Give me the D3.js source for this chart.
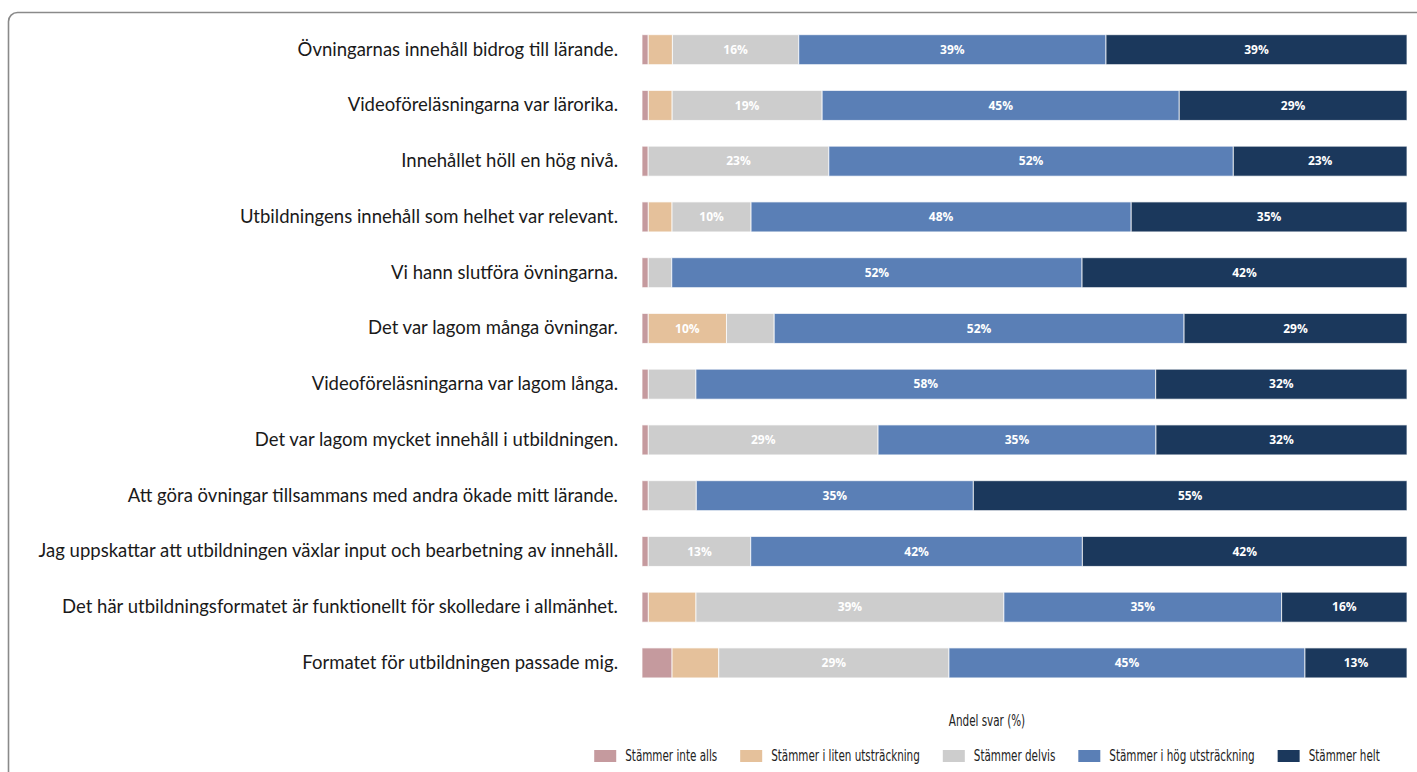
<!DOCTYPE html>
<html>
<head>
<meta charset="utf-8">
<script src="https://cdn.jsdelivr.net/npm/d3@7"></script>
<style>
  html, body { margin: 0; padding: 0; background: #ffffff; }
  svg { display: block; }
</style>
</head>
<body>
<svg id="chart" width="1417" height="772"></svg>
<script>
const categories = [
  "Övningarnas innehåll bidrog till lärande.",
  "Videoföreläsningarna var lärorika.",
  "Innehållet höll en hög nivå.",
  "Utbildningens innehåll som helhet var relevant.",
  "Vi hann slutföra övningarna.",
  "Det var lagom många övningar.",
  "Videoföreläsningarna var lagom långa.",
  "Det var lagom mycket innehåll i utbildningen.",
  "Att göra övningar tillsammans med andra ökade mitt lärande.",
  "Jag uppskattar att utbildningen växlar input och bearbetning av innehåll.",
  "Det här utbildningsformatet är funktionellt för skolledare i allmänhet.",
  "Formatet för utbildningen passade mig."
];
const seriesNames = [
  "Stämmer inte alls",
  "Stämmer i liten utsträckning",
  "Stämmer delvis",
  "Stämmer i hög utsträckning",
  "Stämmer helt"
];
const seriesColors = ["#c59a9e", "#e5c19b", "#cdcdcd", "#5a7fb6", "#1b385c"];

const stammerInteAlls = [0.8, 0.8, 0.8, 0.8, 0.8, 0.8, 0.8, 0.8, 0.8, 0.8, 0.8, 3.8];
const stammerILiten   = [3.1, 3.0, 0.0, 3.0, 0.0, 10.0, 0.0, 0.0, 0.0, 0.0, 6.0, 5.9];
const stammerDelvis   = [16.2, 18.9, 23.4, 10.0, 3.0, 6.1, 6.0, 29.1, 6.1, 13.1, 38.8, 29.1];
const stammerIHog     = [39.4, 45.0, 52.4, 48.1, 52.4, 52.4, 58.0, 35.2, 35.2, 42.4, 35.0, 45.0];
const stammerHelt     = [38.6, 28.7, 22.5, 34.9, 41.5, 28.5, 31.7, 31.8, 55.1, 41.5, 15.8, 12.9];

const axisTitle = "Andel svar (%)";

const seriesValues = [stammerInteAlls, stammerILiten, stammerDelvis, stammerIHog, stammerHelt];
const table = categories.map((c, i) => {
  const row = { category: c };
  seriesNames.forEach((s, k) => { row[s] = seriesValues[k][i]; });
  return row;
});

const svg = d3.select("#chart");

// frame
svg.append("rect")
  .attr("x", 8.5).attr("y", 12.5)
  .attr("width", 1440).attr("height", 800)
  .attr("rx", 9).attr("ry", 9)
  .attr("fill", "none")
  .attr("stroke", "#8a8a8a")
  .attr("stroke-width", 1.6);

const x = d3.scaleLinear().domain([0, 1]).range([642, 1407]);
const y = d3.scaleBand().domain(categories).range([21.8, 690.8])
  .paddingInner(0.462).paddingOuter(0.231);
const color = d3.scaleOrdinal().domain(seriesNames).range(seriesColors);

const stack = d3.stack().keys(seriesNames).offset(d3.stackOffsetExpand);
const stacked = stack(table);

const layers = svg.append("g").selectAll("g")
  .data(stacked).join("g")
  .attr("fill", d => color(d.key));

layers.selectAll("rect")
  .data(d => d.map(v => ({ key: d.key, v })))
  .join("rect")
  .attr("x", d => x(d.v[0]))
  .attr("y", d => y(d.v.data.category))
  .attr("width", d => Math.max(0, x(d.v[1]) - x(d.v[0])))
  .attr("height", y.bandwidth())
  .attr("stroke", "#ffffff")
  .attr("stroke-opacity", 0.75)
  .attr("stroke-width", 1);

// value labels
layers.selectAll("text")
  .data(d => d.map(v => ({ key: d.key, v, raw: v.data[d.key] })).filter(e => e.raw >= 9.5))
  .join("text")
  .attr("x", d => (x(d.v[0]) + x(d.v[1])) / 2)
  .attr("y", d => y(d.v.data.category) + y.bandwidth() / 2)
  .attr("dy", "0.35em")
  .attr("text-anchor", "middle")
  .attr("fill", "#ffffff")
  .attr("font-family", "'Open Sans', 'Noto Sans', sans-serif")
  .attr("font-weight", "bold")
  .attr("font-size", 12)
  .text(d => Math.round(d.raw) + "%");

// category axis
const yAxis = d3.axisLeft(y).tickSize(0).tickPadding(0);
const gy = svg.append("g").attr("transform", "translate(618,0)").call(yAxis);
gy.select(".domain").remove();
gy.selectAll("text")
  .attr("font-family", "Lato, 'Open Sans', sans-serif")
  .attr("font-size", 18.5)
  .attr("fill", "#1a1a1a");

const narrowFont = "'DejaVu Sans Condensed', 'DejaVu Sans', sans-serif";
const squeeze = 0.77;

// axis title
svg.append("text")
  .attr("transform", `translate(987,721) scale(${squeeze},1)`)
  .attr("dy", "0.35em")
  .attr("text-anchor", "middle")
  .attr("font-family", narrowFont)
  .attr("font-size", 15)
  .attr("fill", "#222")
  .text(axisTitle);

// legend
const legend = svg.append("g");
const items = legend.selectAll("g").data(seriesNames).join("g");
items.append("rect")
  .attr("width", 22).attr("height", 12)
  .attr("y", -6)
  .attr("fill", d => color(d));
items.append("text")
  .attr("transform", `translate(31,0) scale(${squeeze},1)`)
  .attr("dy", "0.35em")
  .attr("font-family", narrowFont)
  .attr("font-size", 15)
  .attr("fill", "#222")
  .text(d => d);
let cx = 0;
const offsets = [];
items.each(function() {
  offsets.push(cx);
  const w = d3.select(this).select("text").node().getComputedTextLength() * squeeze;
  cx += 31 + w + 23;
});
const totalW = cx - 23;
const startX = 987 - totalW / 2;
items.attr("transform", (d, i) => `translate(${startX + offsets[i]},756)`);
</script>
</body>
</html>
